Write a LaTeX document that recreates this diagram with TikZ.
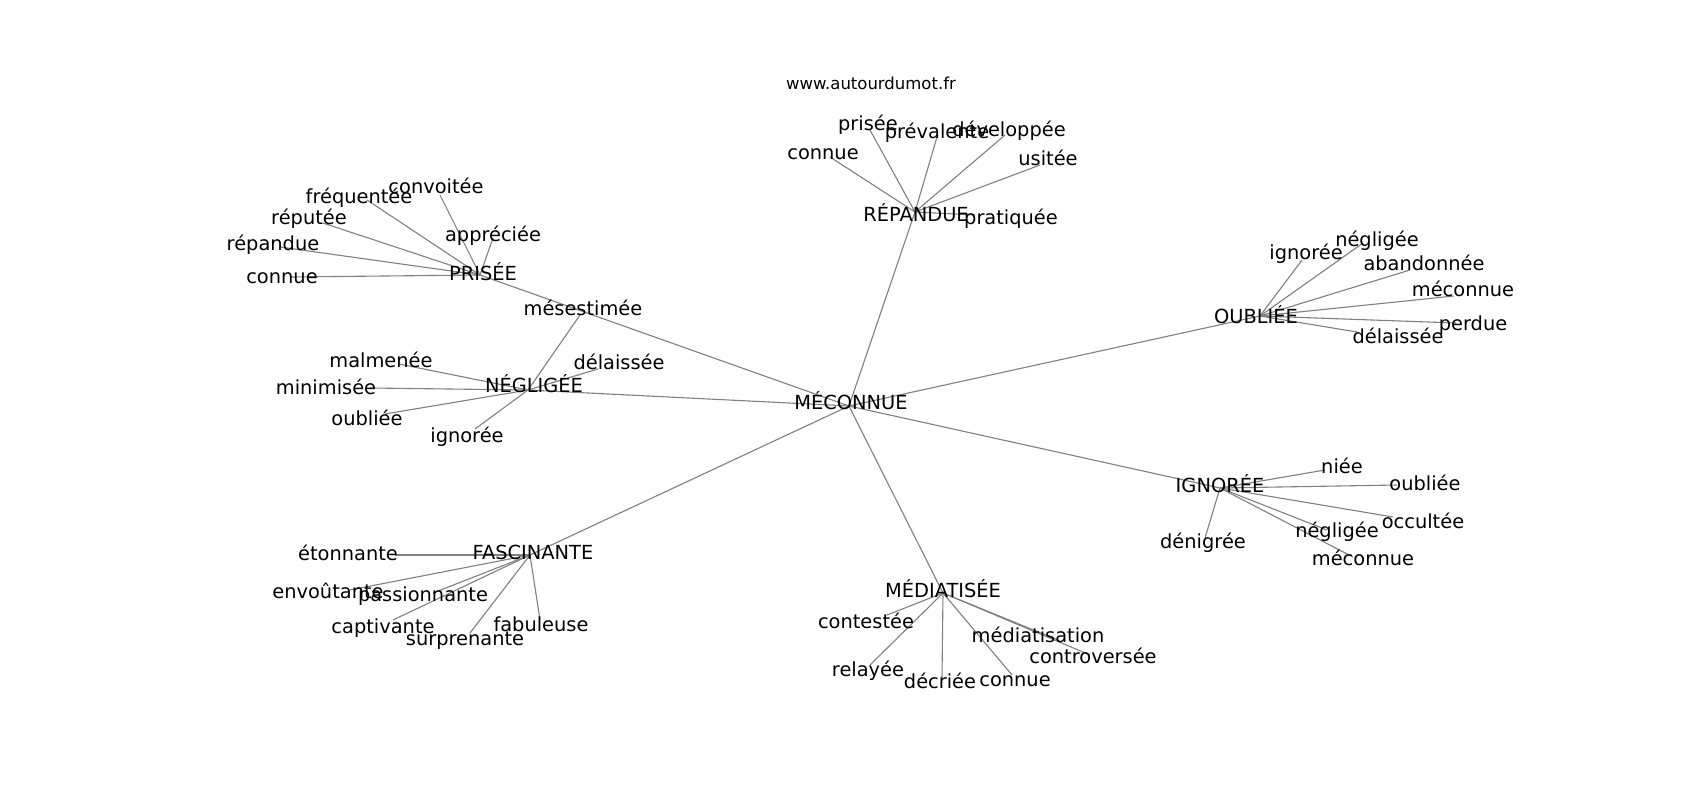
\documentclass[tikz,border=0pt]{standalone}
\usepackage{fontspec}
\setmainfont{DejaVu Sans}
\begin{document}
\begin{tikzpicture}[x=1pt,y=-1pt,
  lbl/.style={font=\fontsize{19.4}{23}\selectfont, inner sep=0pt, anchor=base, text=black},
  ttl/.style={font=\fontsize{16.5}{20}\selectfont, inner sep=0pt, anchor=base, text=black},
  link/.style={draw=black!50, line width=1.1pt}]
\useasboundingbox[fill=white] (0,0) rectangle (1700,800);
% hubs
\coordinate (h0) at (849,406);
\coordinate (hP) at (480,275);
\coordinate (hN) at (528,390);
\coordinate (hR) at (915,212);
\coordinate (hO) at (1260,316);
\coordinate (hI) at (1220,488);
\coordinate (hM) at (943,593);
\coordinate (hF) at (530,555);
% PRISEE ends
\coordinate (p1) at (440,195);
\coordinate (p2) at (367,200);
\coordinate (p3) at (323,223);
\coordinate (p4) at (280,247);
\coordinate (p5) at (290,277);
\coordinate (p6) at (493,238);
% NEGLIGEE ends
\coordinate (n1) at (399,364);
\coordinate (n2) at (370,388);
\coordinate (n3) at (385,414);
\coordinate (n4) at (475,429);
\coordinate (n5) at (598,369);
\coordinate (n6) at (580,315);
% REPANDUE ends
\coordinate (r1) at (830,157);
\coordinate (r2) at (870,130);
\coordinate (r3) at (937,137);
\coordinate (r4) at (1005,135);
\coordinate (r5) at (1040,165);
\coordinate (r6) at (975,215);
% OUBLIEE ends
\coordinate (o1) at (1302,260);
\coordinate (o2) at (1363,243);
\coordinate (o3) at (1410,270);
\coordinate (o4) at (1454,296);
\coordinate (o5) at (1456,323);
\coordinate (o6) at (1357,332);
% IGNOREE ends
\coordinate (i1) at (1325,470);
\coordinate (i2) at (1397,485);
\coordinate (i3) at (1393,517);
\coordinate (i4) at (1327,530);
\coordinate (i5) at (1353,557);
\coordinate (i6) at (1205,538);
% MEDIATISEE ends
\coordinate (m1) at (887,615);
\coordinate (m2) at (870,665);
\coordinate (m3) at (942,678);
\coordinate (m4) at (1012,675);
\coordinate (m5) at (1058,640);
\coordinate (m6) at (1090,655);
% FASCINANTE ends
\coordinate (f1) at (395,555);
\coordinate (f2) at (350,590);
\coordinate (f3) at (433,593);
\coordinate (f4) at (393,620);
\coordinate (f5) at (470,633);
\coordinate (f6) at (540,620);
% edges
\foreach \h in {hP,hN,hR,hO,hI,hM,hF} \draw[link] (h0) -- (\h);
\foreach \e in {p1,p2,p3,p4,p5,p6} \draw[link] (hP) -- (\e);
\foreach \e in {n1,n2,n3,n4,n5,n6} \draw[link] (hN) -- (\e);
\foreach \e in {r1,r2,r3,r4,r5,r6} \draw[link] (hR) -- (\e);
\foreach \e in {o1,o2,o3,o4,o5,o6} \draw[link] (hO) -- (\e);
\foreach \e in {i1,i2,i3,i4,i5,i6} \draw[link] (hI) -- (\e);
\foreach \e in {m1,m2,m3,m4,m5,m6} \draw[link] (hM) -- (\e);
\foreach \e in {f1,f2,f3,f4,f5,f6} \draw[link] (hF) -- (\e);
% labels
\node[ttl] (title) at (871,89) {www.autourdumot.fr};
\node[lbl] (L0) at (851,409) {MÉCONNUE};
\node[lbl] (LP) at (483,280) {PRISÉE};
\node[lbl] (LN) at (534,392) {NÉGLIGÉE};
\node[lbl] (LR) at (916,221) {RÉPANDUE};
\node[lbl] (LO) at (1256,323) {OUBLIÉE};
\node[lbl] (LI) at (1220,492) {IGNORÉE};
\node[lbl] (LM) at (943,597) {MÉDIATISÉE};
\node[lbl] (LF) at (533,559) {FASCINANTE};
% PRISEE
\node[lbl] (tp1) at (436,193) {convoitée};
\node[lbl] (tp2) at (359,203) {fréquentée};
\node[lbl] (tp3) at (309,224) {réputée};
\node[lbl] (tp4) at (273,250) {répandue};
\node[lbl] (tp5) at (282,283) {connue};
\node[lbl] (tp6) at (493,241) {appréciée};
% NEGLIGEE
\node[lbl] (tn1) at (381,367) {malmenée};
\node[lbl] (tn2) at (326,394) {minimisée};
\node[lbl] (tn3) at (367,425) {oubliée};
\node[lbl] (tn4) at (467,442) {ignorée};
\node[lbl] (tn5) at (619,369) {délaissée};
\node[lbl] (tn6) at (583,315) {mésestimée};
% REPANDUE
\node[lbl] (tr1) at (823,159) {connue};
\node[lbl] (tr2) at (868,130) {prisée};
\node[lbl] (tr3) at (937,138) {prévalente};
\node[lbl] (tr4) at (1009,136) {développée};
\node[lbl] (tr5) at (1048,165) {usitée};
\node[lbl] (tr6) at (1011,224) {pratiquée};
% OUBLIEE
\node[lbl] (to1) at (1306,259) {ignorée};
\node[lbl] (to2) at (1377,246) {négligée};
\node[lbl] (to3) at (1424,270) {abandonnée};
\node[lbl] (to4) at (1463,296) {méconnue};
\node[lbl] (to5) at (1473,330) {perdue};
\node[lbl] (to6) at (1398,343) {délaissée};
% IGNOREE
\node[lbl] (ti1) at (1342,473) {niée};
\node[lbl] (ti2) at (1425,490) {oubliée};
\node[lbl] (ti3) at (1423,528) {occultée};
\node[lbl] (ti4) at (1337,537) {négligée};
\node[lbl] (ti5) at (1363,565) {méconnue};
\node[lbl] (ti6) at (1203,548) {dénigrée};
% MEDIATISEE
\node[lbl] (tm1) at (866,628) {contestée};
\node[lbl] (tm2) at (868,676) {relayée};
\node[lbl] (tm3) at (940,688) {décriée};
\node[lbl] (tm4) at (1015,686) {connue};
\node[lbl] (tm5) at (1038,642) {médiatisation};
\node[lbl] (tm6) at (1093,663) {controversée};
% FASCINANTE
\node[lbl] (tf1) at (348,560) {étonnante};
\node[lbl] (tf2) at (328,598) {envoûtante};
\node[lbl] (tf3) at (423,601) {passionnante};
\node[lbl] (tf4) at (383,633) {captivante};
\node[lbl] (tf5) at (465,645) {surprenante};
\node[lbl] (tf6) at (541,631) {fabuleuse};
\end{tikzpicture}
\end{document}
